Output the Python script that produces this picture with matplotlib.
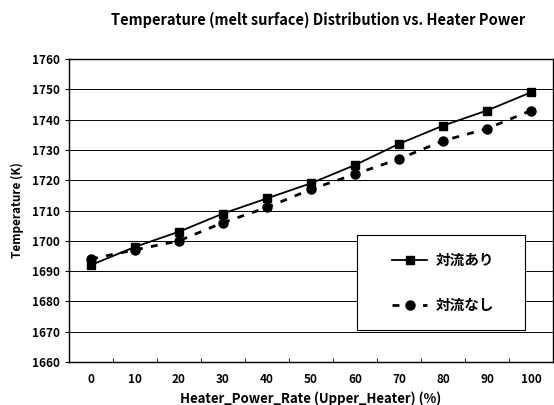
import matplotlib
matplotlib.use('Agg')
import matplotlib.pyplot as plt
from matplotlib.patches import Rectangle
from matplotlib.ticker import MultipleLocator

plt.rcParams['font.family'] = ['Noto Sans CJK JP', 'DejaVu Sans']

# heater power rate (%) and melt surface temperature (K)
power = [0, 10, 20, 30, 40, 50, 60, 70, 80, 90, 100]
temp_conv = [1692, 1698, 1703, 1709, 1714, 1719, 1725, 1732, 1738, 1743, 1749]
temp_noconv = [1694, 1697, 1700, 1706, 1711, 1717, 1722, 1727, 1733, 1737, 1743]

fig = plt.figure(figsize=(5.54, 4.05), dpi=100)
ax = fig.add_axes([69/554, 1 - 362/405, (553 - 69)/554, (362 - 59)/405])

ax.plot(power, temp_conv, '-s', color='black', lw=1.3, ms=6, label='対流あり')
ax.plot(power, temp_noconv, '--o', color='black', lw=2, ms=6.5, dashes=(2.5, 3), label='対流なし')

ax.set_xlim(-5, 105)
ax.set_ylim(1660, 1760)
ax.xaxis.set_major_locator(MultipleLocator(10))
ax.yaxis.set_major_locator(MultipleLocator(10))
ax.set_xticks([5 + 10*i for i in range(10)], minor=True)
ax.tick_params(axis='x', which='major', length=0, pad=8, labelsize=8.5)
ax.tick_params(axis='x', which='minor', length=3, direction='in')
ax.tick_params(axis='y', which='major', length=3, labelsize=8.5)
for lab in ax.get_xticklabels() + ax.get_yticklabels():
    lab.set_fontweight('bold')
ax.grid(axis='y', color='black', lw=0.7)
for s in ax.spines.values():
    s.set_linewidth(1)

ax.set_xlabel('Heater_Power_Rate (Upper_Heater) (%)', fontsize=9.5, fontweight='bold', labelpad=4)
ax.set_ylabel('Temperature (K)', fontsize=8.5, fontweight='bold', labelpad=6)
fig.text(318/554, 1 - 20/405, 'Temperature (melt surface) Distribution vs. Heater Power',
         ha='center', va='center', fontsize=10.5, fontweight='bold')

# legend box (white frame) and the entries centred in it
x0, y0 = (357 - 69)/484, (362 - 330)/303
w, h = (525 - 357)/484, (330 - 235)/303
ax.add_patch(Rectangle((x0, y0), w, h, transform=ax.transAxes, facecolor='white',
                       edgecolor='black', lw=0.8, zorder=4))
leg = ax.legend(loc='center', bbox_to_anchor=(x0 + w/2 + 0.005, y0 + h/2),
                frameon=False, labelspacing=2.0, handlelength=2.4, handletextpad=0.6,
                prop={'weight': 'bold', 'size': 10.5})
leg.set_zorder(5)

fig.savefig('out.png', dpi=100)
